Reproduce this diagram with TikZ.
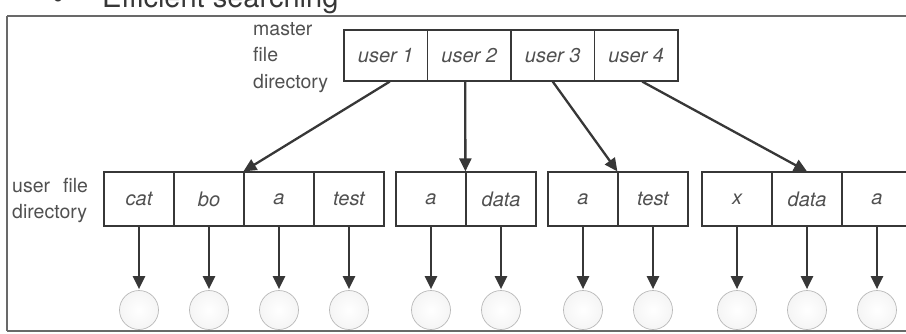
\documentclass[tikz,border=0pt]{standalone}
\usepackage{fontspec}
\setmainfont{TeX Gyre Heros}
\usetikzlibrary{arrows.meta}
\definecolor{ink}{RGB}{55,55,55}
\definecolor{txt}{RGB}{80,80,80}
\definecolor{frame}{RGB}{105,105,105}
\begin{document}
\begin{tikzpicture}[x=1pt,y=-1pt,
  mcell/.style={draw=ink, line width=1.2pt, minimum width=83.5pt, minimum height=51pt, inner sep=0pt,
    font=\fontsize{20}{22}\selectfont\itshape, text=txt},
  ucell/.style={draw=ink, line width=1.2pt, minimum width=70pt, minimum height=54pt, inner sep=0pt,
    font=\fontsize{20}{22}\selectfont\itshape, text=txt},
  filenode/.style={circle, draw=gray!55, line width=0.7pt, minimum size=39pt, inner sep=0pt,
    inner color=white, outer color=gray!8},
  lbl/.style={anchor=base west, inner sep=0pt, font=\fontsize{19.5}{22}\selectfont, text=txt},
  ptr/.style={draw=ink, line width=2.3pt, -{Triangle[length=13pt,width=12pt]}},
  fptr/.style={ptr, shorten >=1pt}]
\useasboundingbox (0,0) rectangle (906,333);
% frame
\draw[frame, line width=2.5pt] (7,16) -- (915,16);
\draw[frame, line width=2.5pt] (7,16) -- (7,331);
\draw[frame, line width=2pt] (7,331) -- (915,331);
% title
\node[anchor=center, inner sep=0pt, text=ink, font=\fontsize{34}{36}\selectfont] (bul) at (58,2) {•};
\node[lbl, font=\fontsize{29}{32}\selectfont, text=ink] (title) at (102,7) {Efficient searching};
% labels
\node[lbl] (lm1) at (253,35) {master};
\node[lbl] (lm2) at (253,61) {file};
\node[lbl] (lm3) at (253,88) {directory};
\node[lbl] (lu1) at (12,192) {user\hspace{13pt}file};
\node[lbl] (lu2) at (12,218) {directory};
% master file directory
\node[mcell] (m1) at (385.75,55.5) {user 1};
\node[mcell] (m2) at (469.25,55.5) {user 2};
\node[mcell] (m3) at (552.75,55.5) {user 3};
\node[mcell] (m4) at (636.25,55.5) {user 4};
% user file directories
\node[ucell] (a1) at (139,199) {cat};
\node[ucell] (a2) at (209,199) {bo};
\node[ucell] (a3) at (279,199) {a};
\node[ucell] (a4) at (349,199) {test};
\node[ucell] (b1) at (431,199) {a};
\node[ucell] (b2) at (501,199) {data};
\node[ucell] (c1) at (583,199) {a};
\node[ucell] (c2) at (653,199) {test};
\node[ucell] (d1) at (737,199) {x};
\node[ucell] (d2) at (807,199) {data};
\node[ucell] (d3) at (877,199) {a};
% files
\foreach \n/\x in {a1/139,a2/209,a3/279,a4/349,b1/431,b2/501,c1/583,c2/653,d1/737,d2/807,d3/877}{
  \node[filenode] (f\n) at (\x,310) {};
}
\foreach \n in {a1,a2,a3,a4,b1,b2,c1,c2,d1,d2,d3}{
  \draw[fptr] (\n.south) -- (f\n.north);
}
% master pointers
\draw[ptr] ([xshift=4pt]m1.south) -- (a3.north west);
\draw[ptr] ([xshift=-4pt]m2.south) -- (b2.north west);
\draw[ptr] (m3.south) -- (c2.north west);
\draw[ptr] ([xshift=6pt]m4.south) -- (d2.north);
\end{tikzpicture}
\end{document}
